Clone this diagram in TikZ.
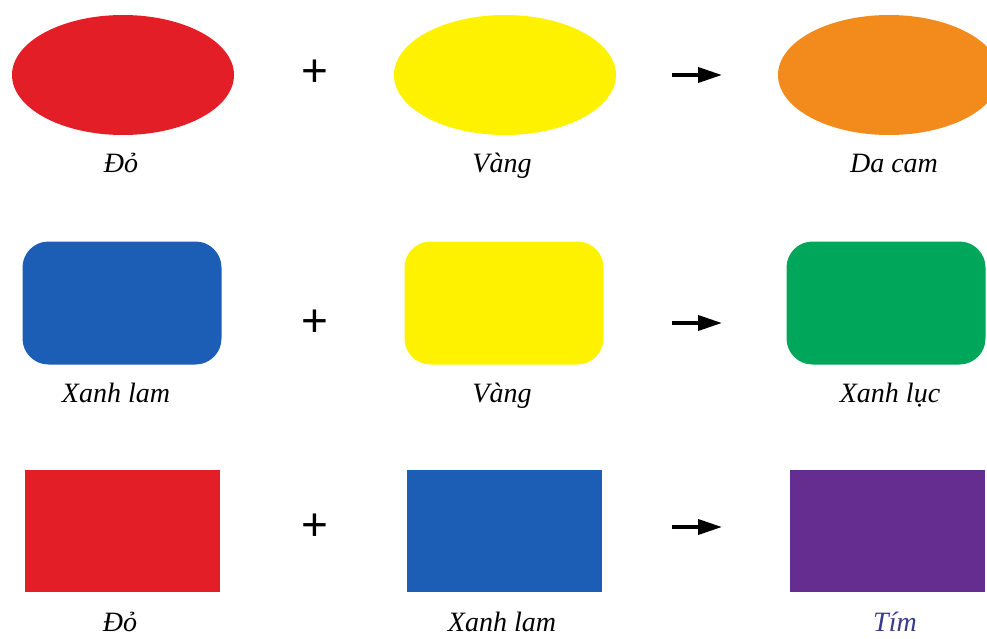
\documentclass[tikz,border=0pt]{standalone}
\usepackage{fontspec}
\setmainfont{Liberation Serif}
\newfontfamily\plusfont{Liberation Sans}
\usepackage{xcolor}
\usetikzlibrary{shapes.geometric,arrows.meta}

\definecolor{mixred}{HTML}{E41E26}
\definecolor{mixyellow}{HTML}{FFF200}
\definecolor{mixorange}{HTML}{F28A1C}
\definecolor{mixblue}{HTML}{1C5DB5}
\definecolor{mixgreen}{HTML}{00A65A}
\definecolor{mixpurple}{HTML}{662D91}
\definecolor{timtext}{HTML}{3A3A8C}

\begin{document}
\begin{tikzpicture}[x=1pt, y=-1pt,
  blob/.style={ellipse, minimum width=222pt, minimum height=120pt, inner sep=0pt},
  pill/.style={rounded corners=26pt, minimum width=199pt, minimum height=123pt, inner sep=0pt},
  block/.style={rectangle, minimum width=195pt, minimum height=122pt, inner sep=0pt},
  colname/.style={font=\fontsize{28}{30}\selectfont\itshape, inner sep=0pt, anchor=base},
  plus/.style={font=\fontsize{46}{48}\selectfont\plusfont, inner sep=0pt},
  yields/.style={-{Triangle[length=24pt, width=15pt]}, line width=3.8pt},
]
\useasboundingbox (0,0) rectangle (987,639);
\clip (0,0) rectangle (987,639);

% Red + yellow = orange
\node[blob, fill=mixred] (r1a) at (123,75) {};
\node[blob, fill=mixyellow] (r1b) at (505,75) {};
\node[blob, fill=mixorange] (r1c) at (889,75) {};
\node[plus] (p1) at (315,73) {+};
\coordinate (s1) at (672,75);
\coordinate (e1) at (722,75);
\draw[yields] (s1) -- (e1);
\node[colname] (l1a) at (121,172) {Đỏ};
\node[colname] (l1b) at (502,173) {Vàng};
\node[colname] (l1c) at (894,173) {Da cam};

% Blue + yellow = green
\node[pill, fill=mixblue] (r2a) at (122,303) {};
\node[pill, fill=mixyellow] (r2b) at (504,303) {};
\node[pill, fill=mixgreen] (r2c) at (886,303) {};
\node[plus] (p2) at (315,323) {+};
\coordinate (s2) at (672,323);
\coordinate (e2) at (722,323);
\draw[yields] (s2) -- (e2);
\node[colname] (l2a) at (116,402) {Xanh lam};
\node[colname] (l2b) at (502,402) {Vàng};
\node[colname] (l2c) at (890,402) {Xanh lục};

% Red + blue = purple
\node[block, fill=mixred] (r3a) at (122,531) {};
\node[block, fill=mixblue] (r3b) at (504,531) {};
\node[block, fill=mixpurple] (r3c) at (887,531) {};
\node[plus] (p3) at (315,527) {+};
\coordinate (s3) at (672,527);
\coordinate (e3) at (722,527);
\draw[yields] (s3) -- (e3);
\node[colname] (l3a) at (120,631) {Đỏ};
\node[colname] (l3b) at (502,631) {Xanh lam};
\node[colname, text=timtext] (l3c) at (895,631) {Tím};

\end{tikzpicture}
\end{document}
